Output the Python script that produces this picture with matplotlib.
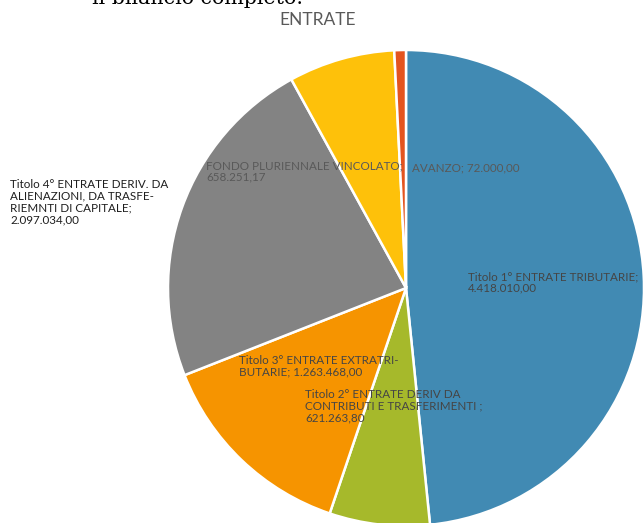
import matplotlib
matplotlib.use("Agg")
import matplotlib.pyplot as plt

# Data
labels = [
    "Titolo 1° ENTRATE TRIBUTARIE;\n4.418.010,00",
    "Titolo 2° ENTRATE DERIV DA\nCONTRIBUTI E TRASFERIMENTI ;\n621.263,80",
    "Titolo 3° ENTRATE EXTRATRI-\nBUTARIE; 1.263.468,00",
    "Titolo 4° ENTRATE DERIV. DA\nALIENAZIONI, DA TRASFE-\nRIEMNTI DI CAPITALE;\n2.097.034,00",
    "FONDO PLURIENNALE VINCOLATO;\n658.251,17",
    "AVANZO; 72.000,00",
]
values = [4418010.00, 621263.80, 1263468.00, 2097034.00, 658251.17, 72000.00]
colors = ["#418AB3", "#A6B92B", "#F69400", "#838383", "#FEC10A", "#E3541F"]
title = "ENTRATE"
header = "il bilancio completo:"

W, H = 644, 523
fig = plt.figure(figsize=(W / 100, H / 100), dpi=100)
ax = fig.add_axes([0, 0, 1, 1])

cx, cy, r = 406, 288, 238
ax.pie(values, colors=colors, startangle=90, counterclock=False,
       center=(cx, H - cy), radius=r,
       wedgeprops=dict(edgecolor="white", linewidth=1.8))
ax.set_xlim(0, W)
ax.set_ylim(0, H)
ax.set_aspect("auto")
ax.axis("off")

font = "Lato"
label_pos = [(468, 271), (305, 389), (239, 355), (10, 179), (206, 160), (412, 162)]
label_col = ["#454545", "#454545", "#454545", "#1e1e1e", "#595959", "#595959"]
for lab, (x, y), c in zip(labels, label_pos, label_col):
    ax.text(x, H - y, lab, ha="left", va="top", fontsize=8.4, color=c,
            family=font, linespacing=1.08)

ax.text(318, H - 20, title, ha="center", va="center", fontsize=12.5,
        color="#595959", family=font)
ax.text(92, H - 3.5, header, ha="left", va="baseline", fontsize=14.8,
        color="black", family="DejaVu Serif")

fig.savefig("out.png", dpi=100)
